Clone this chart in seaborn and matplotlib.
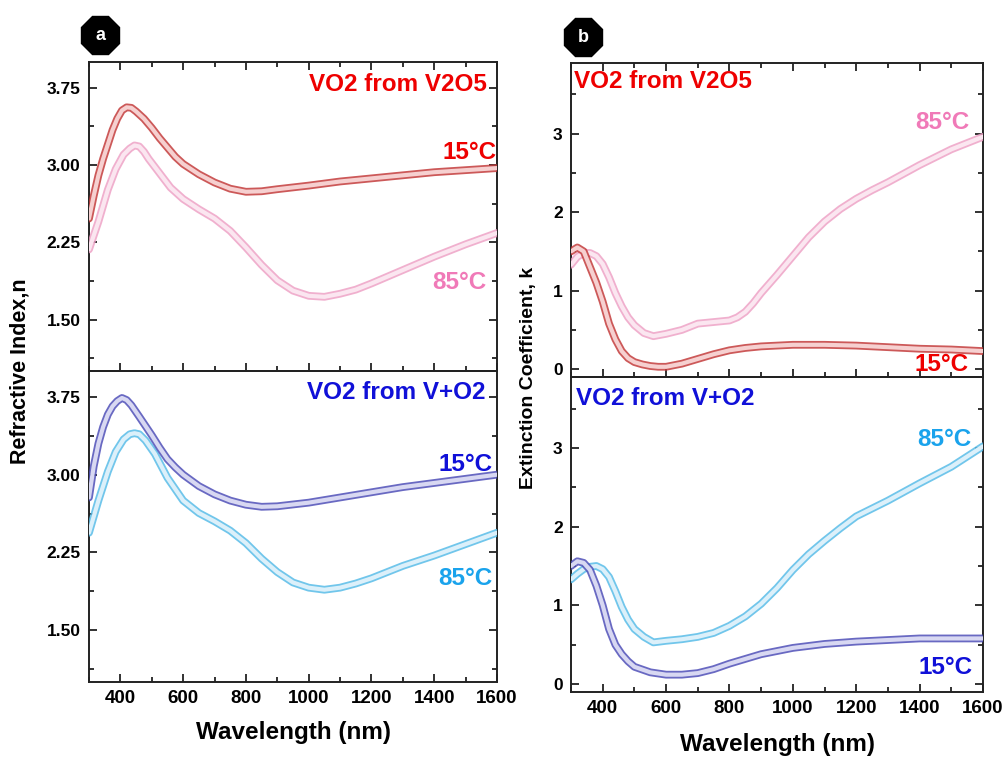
import numpy as np
import pandas as pd
import seaborn as sns
import matplotlib.pyplot as plt
import matplotlib.patheffects as pe
from matplotlib.ticker import MultipleLocator

# ---- data ----
# (a) refractive index n, VO2 from V2O5
wl_a1_15 = [300, 315, 330, 345, 360, 375, 390, 405, 420, 435, 450, 475, 500, 525, 550, 575, 600, 650, 700, 750, 800, 850, 900, 1000, 1100, 1200, 1300, 1400, 1500, 1600]
n_a1_15 = [2.48, 2.70, 2.90, 3.06, 3.20, 3.34, 3.45, 3.53, 3.56, 3.555, 3.52, 3.45, 3.36, 3.26, 3.17, 3.08, 3.01, 2.91, 2.83, 2.77, 2.74, 2.745, 2.765, 2.80, 2.84, 2.87, 2.90, 2.93, 2.95, 2.97]
wl_a1_85 = [300, 330, 360, 385, 410, 430, 445, 460, 475, 490, 520, 560, 600, 650, 700, 750, 800, 850, 900, 950, 1000, 1050, 1100, 1150, 1200, 1300, 1400, 1500, 1600]
n_a1_85 = [2.18, 2.45, 2.76, 2.96, 3.10, 3.16, 3.19, 3.18, 3.13, 3.06, 2.94, 2.78, 2.67, 2.57, 2.48, 2.36, 2.20, 2.03, 1.88, 1.78, 1.73, 1.72, 1.75, 1.79, 1.85, 1.98, 2.11, 2.23, 2.34]

# (a) refractive index n, VO2 from V+O2
wl_a2_15 = [300, 315, 330, 345, 360, 375, 390, 405, 420, 435, 460, 480, 500, 525, 550, 575, 600, 650, 700, 750, 800, 850, 900, 1000, 1100, 1200, 1300, 1400, 1500, 1600]
n_a2_15 = [2.78, 3.08, 3.30, 3.46, 3.58, 3.66, 3.71, 3.74, 3.72, 3.67, 3.56, 3.47, 3.38, 3.26, 3.15, 3.07, 3.00, 2.89, 2.81, 2.75, 2.71, 2.69, 2.695, 2.73, 2.78, 2.83, 2.88, 2.92, 2.96, 3.00]
wl_a2_85 = [300, 330, 360, 385, 410, 430, 445, 460, 480, 510, 550, 600, 650, 700, 750, 800, 850, 900, 950, 1000, 1050, 1100, 1150, 1200, 1300, 1400, 1500, 1600]
n_a2_85 = [2.44, 2.75, 3.03, 3.22, 3.34, 3.39, 3.40, 3.39, 3.33, 3.20, 2.97, 2.75, 2.63, 2.55, 2.46, 2.34, 2.19, 2.06, 1.96, 1.91, 1.89, 1.91, 1.95, 2.00, 2.12, 2.22, 2.33, 2.44]

# (b) extinction coefficient k, VO2 from V2O5
wl_b1_15 = [300, 320, 340, 360, 380, 400, 420, 440, 460, 480, 500, 525, 550, 575, 600, 650, 700, 750, 800, 850, 900, 1000, 1100, 1200, 1300, 1400, 1500, 1600]
k_b1_15 = [1.50, 1.55, 1.50, 1.30, 1.10, 0.86, 0.58, 0.38, 0.23, 0.14, 0.09, 0.06, 0.04, 0.03, 0.03, 0.07, 0.13, 0.19, 0.24, 0.27, 0.29, 0.31, 0.31, 0.30, 0.28, 0.26, 0.25, 0.23]
wl_b1_85 = [300, 320, 340, 360, 380, 400, 420, 440, 460, 480, 500, 530, 560, 600, 650, 700, 750, 775, 800, 825, 850, 875, 900, 950, 1000, 1050, 1100, 1150, 1200, 1250, 1300, 1400, 1500, 1600]
k_b1_85 = [1.33, 1.43, 1.48, 1.48, 1.44, 1.34, 1.17, 0.97, 0.80, 0.66, 0.56, 0.46, 0.42, 0.45, 0.50, 0.58, 0.60, 0.61, 0.62, 0.66, 0.73, 0.84, 0.97, 1.20, 1.44, 1.68, 1.88, 2.04, 2.17, 2.28, 2.38, 2.60, 2.80, 2.96]

# (b) extinction coefficient k, VO2 from V+O2
wl_b2_15 = [300, 320, 340, 360, 380, 400, 420, 440, 460, 480, 500, 550, 600, 650, 700, 750, 800, 850, 900, 1000, 1100, 1200, 1300, 1400, 1500, 1600]
k_b2_15 = [1.50, 1.56, 1.54, 1.45, 1.25, 1.00, 0.70, 0.50, 0.38, 0.29, 0.22, 0.15, 0.12, 0.12, 0.14, 0.19, 0.26, 0.32, 0.38, 0.46, 0.51, 0.54, 0.56, 0.58, 0.58, 0.58]
wl_b2_85 = [300, 320, 340, 360, 380, 400, 420, 440, 460, 480, 500, 530, 560, 600, 650, 700, 750, 800, 850, 900, 950, 1000, 1050, 1100, 1150, 1200, 1300, 1400, 1500, 1600]
k_b2_85 = [1.33, 1.40, 1.46, 1.49, 1.50, 1.46, 1.36, 1.18, 0.98, 0.82, 0.70, 0.60, 0.53, 0.55, 0.57, 0.60, 0.65, 0.74, 0.86, 1.02, 1.22, 1.45, 1.65, 1.82, 1.98, 2.13, 2.33, 2.55, 2.76, 3.02]

# colours
RED_TXT, PINK_TXT = "#ee0000", "#f07ab8"
BLUE_TXT, LBLUE_TXT = "#1010d8", "#1aa3ec"
RED_LINE, PINK_LINE = ("#c43c3c", "#f6d0d0"), ("#eea2c6", "#fbe6f0")
BLUE_LINE, LBLUE_LINE = ("#4f4fb8", "#d8d8f2"), ("#58bce8", "#dcf0fa")

sns.set_style("ticks")
plt.rcParams["font.family"] = ["Liberation Sans", "DejaVu Sans"]
plt.rcParams["font.weight"] = "bold"
for key in ("text.color", "axes.labelcolor", "xtick.color", "ytick.color"):
    plt.rcParams[key] = "black"

fig = plt.figure(figsize=(10.07, 7.58), dpi=100)
W, H = 1007, 758


def add_ax(x0, x1, y0, y1):
    return fig.add_axes([x0 / W, 1 - y1 / H, (x1 - x0) / W, (y1 - y0) / H])


def tube(ax, x, y, cols):
    # hollow band that mimics the dense open-circle markers
    sns.lineplot(x=x, y=y, ax=ax, color=cols[1], lw=3.0, sort=False, zorder=3)
    line = ax.lines[-1]
    line.set_solid_joinstyle("round")
    line.set_path_effects([pe.Stroke(linewidth=5.6, foreground=cols[0], alpha=0.85), pe.Normal()])


def style(ax, ylim, major, minor, bottom_labels, top_ticks):
    ax.set_xlim(300, 1600)
    ax.set_ylim(*ylim)
    ax.xaxis.set_major_locator(MultipleLocator(200))
    ax.xaxis.set_minor_locator(MultipleLocator(100))
    ax.yaxis.set_major_locator(MultipleLocator(major))
    ax.yaxis.set_minor_locator(MultipleLocator(minor))
    ax.tick_params(which="both", direction="in", right=True, top=top_ticks,
                   width=1.3, labelbottom=bottom_labels, color="#222222")
    ax.tick_params(which="major", length=6)
    ax.tick_params(which="minor", length=3.5)
    ax.tick_params(axis="y", labelsize=12.5, pad=6)
    ax.tick_params(axis="x", labelsize=13.5, pad=6)
    for s in ax.spines.values():
        s.set_linewidth(1.4)
        s.set_color("#222222")
    ax.set_facecolor("none")
    ax.set_xlabel("")
    ax.set_ylabel("")


def label(ax, x, y, s, c, ha="right"):
    ax.text(x, y, s, transform=ax.transAxes, ha=ha, va="center", color=c,
            fontsize=17.5, fontweight="bold", zorder=5)


# ---- panel a ----
a1 = add_ax(89, 497, 62, 371)
a2 = add_ax(89, 497, 371, 682)
tube(a1, wl_a1_85, n_a1_85, PINK_LINE)
tube(a1, wl_a1_15, n_a1_15, RED_LINE)
tube(a2, wl_a2_85, n_a2_85, LBLUE_LINE)
tube(a2, wl_a2_15, n_a2_15, BLUE_LINE)
for ax, lab in ((a1, False), (a2, True)):
    style(ax, (1.0, 4.0), 0.75, 0.375, lab, not lab)
    ax.yaxis.set_major_formatter(plt.FormatStrFormatter("%.2f"))
    ax.set_yticks([1.50, 2.25, 3.00, 3.75])
label(a1, 0.975, 0.926, "VO2 from V2O5", RED_TXT)
label(a1, 1.0, 0.706, "15°C", RED_TXT)
label(a1, 0.975, 0.285, "85°C", PINK_TXT)
label(a2, 0.973, 0.932, "VO2 from V+O2", BLUE_TXT)
label(a2, 0.99, 0.70, "15°C", BLUE_TXT)
label(a2, 0.988, 0.334, "85°C", LBLUE_TXT)

# ---- panel b ----
b1 = add_ax(571, 983, 63, 377)
b2 = add_ax(571, 983, 377, 692)
tube(b1, wl_b1_85, k_b1_85, PINK_LINE)
tube(b1, wl_b1_15, k_b1_15, RED_LINE)
tube(b2, wl_b2_85, k_b2_85, LBLUE_LINE)
tube(b2, wl_b2_15, k_b2_15, BLUE_LINE)
for ax, lab in ((b1, False), (b2, True)):
    style(ax, (-0.1, 3.9), 1, 0.5, lab, not lab)
    ax.set_yticks([0, 1, 2, 3])
label(b1, 0.007, 0.94, "VO2 from V2O5", RED_TXT, ha="left")
label(b1, 0.968, 0.812, "85°C", PINK_TXT)
label(b1, 0.966, 0.041, "15°C", RED_TXT)
label(b2, 0.012, 0.933, "VO2 from V+O2", BLUE_TXT, ha="left")
label(b2, 0.973, 0.80, "85°C", LBLUE_TXT)
label(b2, 0.976, 0.079, "15°C", BLUE_TXT)

# axis titles
fig.text(20 / W, 1 - 371 / H, "Refractive Index,n", rotation=90, ha="center", va="center",
         fontsize=15.5, fontweight="bold")
fig.text(293 / W, 1 - 733 / H, "Wavelength (nm)", ha="center", va="center",
         fontsize=17.5, fontweight="bold")
fig.text(528 / W, 1 - 378 / H, "Extinction Coefficient, k", rotation=90, ha="center", va="center",
         fontsize=14, fontweight="bold")
fig.text(777 / W, 1 - 745 / H, "Wavelength (nm)", ha="center", va="center",
         fontsize=17.5, fontweight="bold")

# panel badges
for px, py, s in ((100, 35, "a"), (583, 37, "b")):
    fig.lines.append(plt.Line2D([px / W], [1 - py / H], marker="8", markersize=29, color="black",
                                transform=fig.transFigure))
    fig.text(px / W, 1 - py / H, s, color="white", ha="center", va="center",
             fontsize=13, fontweight="bold")

fig.savefig("out.png", dpi=100)
